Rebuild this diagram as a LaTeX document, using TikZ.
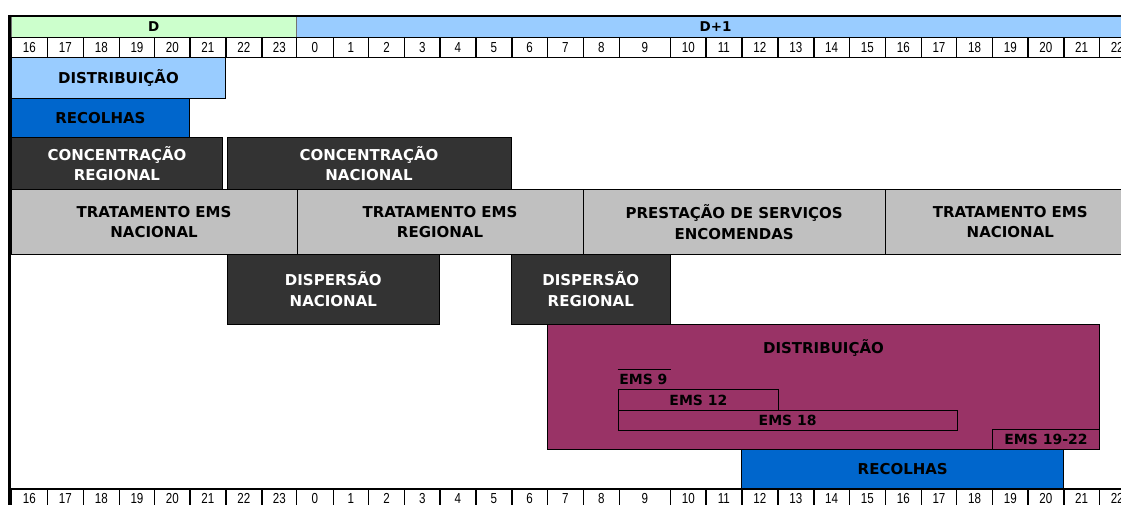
\documentclass[tikz,border=0pt]{standalone}
\usepackage{fontspec}
\newfontfamily\labfont{DejaVu Sans}
\newfontfamily\numfont{Liberation Sans}[FakeStretch=0.8]
\definecolor{hgreen}{HTML}{CCFFCC}
\definecolor{lblue}{HTML}{99CCFF}
\definecolor{dblue}{HTML}{0066CC}
\definecolor{boxdark}{HTML}{333333}
\definecolor{boxgray}{HTML}{C0C0C0}
\definecolor{plum}{HTML}{993366}
\tikzset{
  blk/.style={draw=black, line width=0.9pt, inner sep=0pt, anchor=north west, align=center,
    font=\labfont\bfseries\fontsize{15}{20.5}\selectfont},
  darkbox/.style={blk, fill=boxdark, text=white},
  graybox/.style={blk, fill=boxgray},
  lbluebox/.style={blk, fill=lblue},
  dbluebox/.style={blk, fill=dblue},
  plumbox/.style={blk, fill=plum},
  emsbox/.style={blk, font=\labfont\bfseries\fontsize{14}{16}\selectfont},
  hdr/.style={draw=black!55, line width=0.6pt, inner sep=0pt, anchor=north west,
    font=\labfont\bfseries\fontsize{13.5}{14}\selectfont},
  hcell/.style={draw=black, line width=1.2pt, fill=white, inner sep=0pt, anchor=north west,
    minimum height=20pt, font=\numfont\fontsize{14.5}{14.5}\selectfont},
}
\newcommand\blkbox[7]{\node[#2, minimum width={(#5-#3)*1pt}, minimum height={(#6-#4)*1pt}] (#1) at (#3,#4) {#7};}
\begin{document}
\begin{tikzpicture}[x=1pt,y=-1pt]
\useasboundingbox (0,0) rectangle (1121,505);
\clip (0,0) rectangle (1121,505);
% day headers
\blkbox{hD}{hdr, fill=hgreen}{10.7}{16.5}{296}{37}{D}
\blkbox{hDone}{hdr, fill=lblue}{296}{16.5}{1134.5}{37}{D+1}
% hour rows
\foreach \l/\a/\b [count=\i] in {16/10.7/46.7, 17/46.7/82.7, 18/82.7/118.7, 19/118.7/154,
  20/154/189.3, 21/189.3/225.3, 22/225.3/261.3, 23/261.3/296, 0/296/332.7, 1/332.7/368,
  2/368/404, 3/404/439.3, 4/439.3/475.3, 5/475.3/511.3, 6/511.3/546.7, 7/546.7/582.7,
  8/582.7/618.7, 9/618.7/670, 10/670/705.3, 11/705.3/741.3, 12/741.3/777.3, 13/777.3/813.3,
  14/813.3/848.7, 15/848.7/884.7, 16/884.7/920.7, 17/920.7/956, 18/956/992, 19/992/1027.3,
  20/1027.3/1063.3, 21/1063.3/1098.7, 22/1098.7/1134.5}{
  \node[hcell, minimum width={(\b-\a)*1pt}] (top\i) at (\a,37) {\l};
  \node[hcell, minimum width={(\b-\a)*1pt}] (bot\i) at (\a,488.3) {\l};
}
% activity blocks
\blkbox{distA}{lbluebox}{10.7}{57}{225.3}{98}{DISTRIBUIÇÃO}
\blkbox{recA}{dbluebox}{10.7}{98}{189.3}{137}{RECOLHAS}
\blkbox{concR}{darkbox}{10.7}{137}{222.3}{189}{CONCENTRAÇÃO\\REGIONAL}
\blkbox{concN}{darkbox}{226.5}{137}{510.5}{189}{CONCENTRAÇÃO\\NACIONAL}
\blkbox{tratNA}{graybox}{10.7}{189}{296.5}{254}{TRATAMENTO EMS\\NACIONAL}
\blkbox{tratR}{graybox}{296.5}{189}{582.7}{254}{TRATAMENTO EMS\\REGIONAL}
\blkbox{prest}{graybox}{582.7}{189}{884.7}{254}{PRESTAÇÃO DE SERVIÇOS\\ENCOMENDAS}
\blkbox{tratNB}{graybox}{884.7}{189}{1135}{254}{TRATAMENTO EMS\\NACIONAL}
\blkbox{dispN}{darkbox}{226.5}{254}{439.3}{323.5}{DISPERSÃO\\NACIONAL}
\blkbox{dispR}{darkbox}{510.7}{254}{670}{323.5}{DISPERSÃO\\REGIONAL}
\blkbox{distB}{plumbox}{547.3}{323.5}{1099.3}{449.3}{}
\node[font=\labfont\bfseries\fontsize{15}{20.5}\selectfont, inner sep=0pt] (distBlab) at (823.5,348) {DISTRIBUIÇÃO};
% EMS sub-blocks
\node[anchor=north west, inner xsep=1.5pt, inner ysep=0pt, text width=50pt, align=left,
  minimum height=20pt, font=\labfont\bfseries\fontsize{14}{16}\selectfont] (ems9) at (617.7,369) {EMS 9};
\draw[line width=0.9pt] (ems9.north west) -- (ems9.north east);
\blkbox{emsA}{emsbox}{617.7}{389}{778.3}{410}{EMS 12}
\blkbox{emsB}{emsbox}{617.7}{410}{956.7}{430}{EMS 18}
\blkbox{emsC}{emsbox}{991.7}{429.3}{1099.3}{449.3}{EMS 19-22}
\blkbox{recB}{dbluebox}{741.3}{449.3}{1063.3}{488.3}{RECOLHAS}
% frame
\draw[line width=2.5pt] (8,16) -- (1121,16);
\draw[line width=3pt] (9.2,14.8) -- (9.2,505);
\end{tikzpicture}
\end{document}
